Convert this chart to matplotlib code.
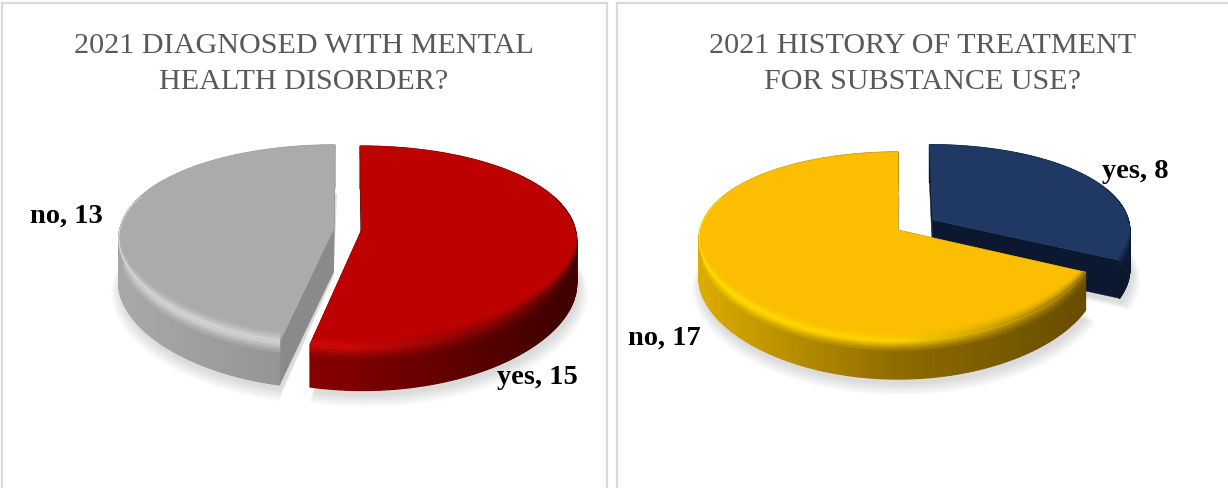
import numpy as np
import matplotlib
matplotlib.use("Agg")
import matplotlib.pyplot as plt
from matplotlib.collections import PolyCollection
from matplotlib.colors import to_rgb
from matplotlib.patches import Polygon, Rectangle

# ---- data ----
left_title = "2021 DIAGNOSED WITH MENTAL\nHEALTH DISORDER?"
left_categories = ["yes", "no"]
left_values = [15, 13]
right_title = "2021 HISTORY OF TREATMENT\nFOR SUBSTANCE USE?"
right_categories = ["yes", "no"]
right_values = [8, 17]

# ---- styles ----
RED = dict(face="#bd0000", rim=["#d21010", "#cc0a0a", "#5a0000"], side=["#a00000", "#800000", "#400000"], cut="#3a0000")
GREY = dict(face="#adaaaa", rim=["#d8d6d6", "#d4d2d2", "#cfcdcd"], side=["#a8a6a6", "#8e8c8c", "#7c7a7a"], cut="#8b8989")
NAVY = dict(face="#1f3864", rim=["#1f3864", "#1f3864", "#14264a"], side=["#0d1a35", "#0c1830", "#0c1830"], cut="#0c1730")
GOLD = dict(face="#fbbe00", rim=["#ffe000", "#ffd000", "#8a6a00"], side=["#dcac00", "#8f6c00", "#664b00"], cut="#664b00")


def project(g, u, v):
    return g["cx"] + g["a"] * v / (1 + 0.6 * g["p"] * u), g["cy"] - g["b"] * u / (1 + g["p"] * u)


def rim(g, t0, t1, e, tm, n=160):
    th = np.linspace(t0, t1, n)
    ox, oy = e * np.cos(tm), e * np.sin(tm)
    x, y = project(g, np.cos(th) + ox, np.sin(th) + oy)
    ax_, ay_ = project(g, ox, oy)
    return th, x, y, ax_, ay_


def colour(stops, xn):
    c = np.array([to_rgb(s) for s in stops])
    return np.array([np.interp(xn, [0, 0.5, 1], c[:, i]) for i in range(3)]).T


def draw_slice(ax, g, t0, t1, e, st):
    tm = (t0 + t1) / 2
    th, x, y, ax_, ay_ = rim(g, t0, t1, e, tm)
    t = g["t"]
    xn = np.clip((x - (g["cx"] - g["a"])) / (2 * g["a"]), 0, 1)
    face = np.array(to_rgb(st["face"]))
    rc, sc = colour(st["rim"], xn), colour(st["side"], xn)
    polys, cols = [], []
    front = np.clip(-np.cos(th) + 0.35, 0, 1)
    bw = g["bevel"] * front
    for i in range(len(th) - 1):
        xs = [x[i], x[i + 1], x[i + 1], x[i]]
        fr = np.r_[0, 0.05, 0.1, 0.15, 0.2, 0.27, 1.0]
        for k in range(len(fr) - 1):
            polys.append(list(zip(xs, [y[i] + t * fr[k], y[i + 1] + t * fr[k],
                                       y[i + 1] + t * fr[k + 1], y[i] + t * fr[k + 1]])))
            w = 1 - min(1, fr[k] / 0.25)
            w *= front[i]
            cols.append(rc[i] * w + sc[i] * (1 - w))
    ax.add_collection(PolyCollection(polys, facecolors=cols, edgecolors=cols, linewidths=0.9, zorder=g["z"]))
    for i_ in (0, -1):
        px, py = x[i_], y[i_]
        ax.add_patch(Polygon([(ax_, ay_), (px, py), (px, py + t), (ax_, ay_ + t)],
                             fc=st["cut"], ec=st["cut"], lw=0.3, zorder=g["z"] - 0.1))
    top = Polygon(np.r_[[[ax_, ay_]], np.c_[x, y]], fc=st["face"], ec=st["face"], lw=0.4, zorder=g["z"] + 0.2)
    ax.add_patch(top)
    polys, cols = [], []
    steps = np.linspace(0, 1, 9)
    for i in range(len(th) - 1):
        if bw[i] <= 0 and bw[i + 1] <= 0:
            continue
        xs = [x[i], x[i + 1], x[i + 1], x[i]]
        for k in range(len(steps) - 1):
            polys.append(list(zip(xs, [y[i] - bw[i] * (1 - steps[k]), y[i + 1] - bw[i + 1] * (1 - steps[k]),
                                       y[i + 1] - bw[i + 1] * (1 - steps[k + 1]), y[i] - bw[i] * (1 - steps[k + 1])])))
            w = steps[k + 1] ** 1.5
            cols.append(face * (1 - w) + rc[i] * w)
    if polys:
        pc = PolyCollection(polys, facecolors=cols, edgecolors=cols, linewidths=0.5, zorder=g["z"] + 0.3)
        ax.add_collection(pc)
        pc.set_clip_path(top)


def draw_shadow(ax, g, t0, t1, e):
    tm = (t0 + t1) / 2
    for k in range(12):
        grow = 1 + 0.004 * k
        th = np.linspace(t0, t1, 160)
        ox, oy = e * np.cos(tm), e * np.sin(tm)
        x, y = project(g, grow * np.cos(th) + ox, grow * np.sin(th) + oy)
        ax_, ay_ = project(g, ox, oy)
        pts = np.r_[[[ax_, ay_ + g["t"] + 4]], np.c_[x + 2, y + g["t"] + 5 + 0.5 * k]]
        ax.add_patch(Polygon(pts, fc="#000000", alpha=0.011, lw=0, zorder=1))


def draw_pie(ax, g, values, styles, explode, order):
    total = sum(values)
    edges = np.r_[0, np.cumsum(values)] / total * 2 * np.pi
    for i in order:
        draw_shadow(ax, g, edges[i], edges[i + 1], explode[i])
    for n, i in enumerate(order):
        draw_slice(ax, dict(g, z=3 + n), edges[i], edges[i + 1], explode[i], styles[i])


fig = plt.figure(figsize=(12.28, 4.89), dpi=100)
ax = fig.add_axes([0, 0, 1, 1])
ax.set_xlim(0, 1228)
ax.set_ylim(489, 0)
ax.axis("off")

for x0, w in [(1.5, 605), (617, 640)]:
    ax.add_patch(Rectangle((x0, 3.5), w, 520, fc="white", ec="#d9d9d9", lw=1.6, zorder=0.5))

SERIF = "Liberation Serif"
g_left = dict(cx=347.5, cy=230.5, a=214, b=97.8, p=0.164, t=43, bevel=11)
g_right = dict(cx=898, cy=231, a=198, b=91.6, p=0.175, t=38, bevel=10)

draw_pie(ax, g_left, left_values, [RED, GREY], [0.065, 0.065], [1, 0])
draw_pie(ax, g_right, right_values, [NAVY, GOLD], [0.21, 0.0], [0, 1])

for cx_, title in [(304, left_title), (923, right_title)]:
    ax.text(cx_, 64, title, ha="center", va="center", fontsize=21.7, color="#595959",
            family=SERIF, linespacing=1.46, zorder=8)

label_pos = {"l0": (537, 378), "l1": (66, 216), "r0": (1135, 171), "r1": (664, 338)}
for key, cats, vals in [("l", left_categories, left_values), ("r", right_categories, right_values)]:
    for i, (c, v) in enumerate(zip(cats, vals)):
        px, py = label_pos[f"{key}{i}"]
        ax.text(px, py, f"{c}, {v}", ha="center", va="center", fontsize=20.5, fontweight="bold",
                color="black", family=SERIF, zorder=9)

fig.savefig("out.png", dpi=100, facecolor="white")
